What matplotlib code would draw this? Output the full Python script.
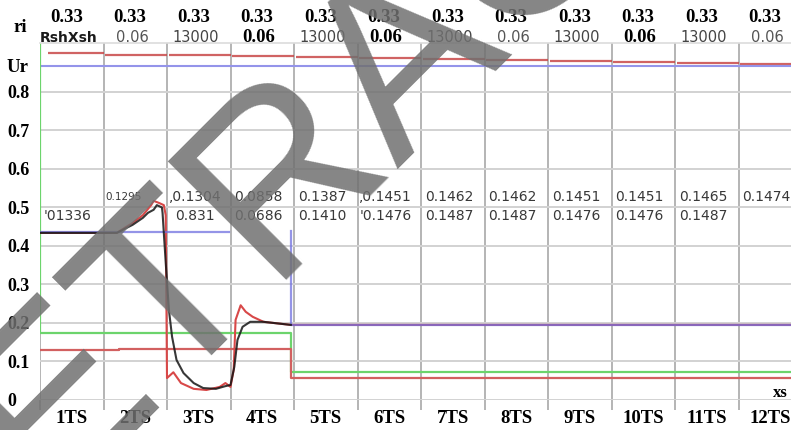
import matplotlib
matplotlib.use("Agg")
import matplotlib.pyplot as plt
from matplotlib.transforms import blended_transform_factory
import numpy as np

# ---- axis labels -------------------------------------------------------
ts_labels = [f"{i}TS" for i in range(1, 13)]
y_ticks = [0, 0.1, 0.2, 0.3, 0.4, 0.5, 0.6, 0.7, 0.8]
y_tick_labels = ["0", "0.1", "0.2", "0.3", "0.4", "0.5", "0.6", "0.7", "0.8"]
ur_level = 0.868

# ---- header rows (one entry per time step) ----------------------------
ri_values = ["0.33"] * 12
rx_values = ["RshXsh", "0.06", "13000", "0.06", "13000", "0.06",
             "13000", "0.06", "13000", "0.06", "13000", "0.06"]
rx_bold = [True, False, False, True, False, True,
           False, False, False, True, False, False]

# ---- per-step result labels -------------------------------------------
upper_labels = [None, "0.1295", ",0.1304", "0.0858", "0.1387", ",0.1451",
                "0.1462", "0.1462", "0.1451", "0.1451", "0.1465", "0.1474"]
lower_labels = ["'01336", None, "0.831", "0.0686", "0.1410", "'0.1476",
                "0.1487", "0.1487", "0.1476", "0.1476", "0.1487", None]

# ---- series -----------------------------------------------------------
ur_red = [0.901, 0.897, 0.895, 0.892, 0.891, 0.888,
          0.886, 0.883, 0.881, 0.878, 0.875, 0.872]

green_t = [0, 0, 3.95, 3.95, 12]
green_v = [0.927, 0.173, 0.173, 0.073, 0.073]

red_low_t = [0, 1.25, 1.25, 3.95, 3.95, 12]
red_low_v = [0.130, 0.130, 0.133, 0.133, 0.057, 0.057]

blue_t = [0, 2.98, np.nan, 3.95, 3.95, 12]
blue_v = [0.435, 0.435, np.nan, 0.44, 0.195, 0.195]

red_t = [0, 1.21, 1.46, 1.62, 1.75, 1.79, 1.87, 1.95, 1.98, 2.0, 2.1,
         2.22, 2.42, 2.62, 2.83, 2.92, 3.0, 3.05, 3.08, 3.16, 3.24, 3.35,
         3.52, 3.95, 12]
red_v = [0.434, 0.434, 0.46, 0.48, 0.506, 0.517, 0.512, 0.506, 0.48, 0.057,
         0.072, 0.044, 0.029, 0.026, 0.034, 0.044, 0.034, 0.078, 0.208,
         0.246, 0.229, 0.216, 0.203, 0.195, 0.195]

black_t = [0, 1.21, 1.46, 1.62, 1.70, 1.79, 1.84, 1.92, 1.93, 1.98, 2.03,
           2.08, 2.15, 2.26, 2.42, 2.57, 2.77, 2.92, 3.0, 3.06, 3.11, 3.19,
           3.31, 3.52, 3.95]
black_v = [0.434, 0.434, 0.455, 0.473, 0.486, 0.494, 0.506, 0.50, 0.486,
           0.356, 0.234, 0.164, 0.104, 0.07, 0.044, 0.031, 0.029, 0.036,
           0.039, 0.086, 0.156, 0.19, 0.203, 0.203, 0.195]

SERIF_B = dict(family="Liberation Serif", weight="bold")

fig = plt.figure(figsize=(7.91, 4.30), dpi=100)
ax = fig.add_axes([40 / 791, 30 / 430, 762 / 791, 357 / 430])
ax.set_xlim(0, 12)
ax.set_ylim(0, 0.927)

for s in ("left", "right", "bottom"):
    ax.spines[s].set_visible(False)
ax.spines["top"].set_color("#dcdcdc")
ax.spines["top"].set_linewidth(1.2)

# grid
ax.set_xticks(range(13))
ax.set_xticklabels([])
ax.set_xticks(np.arange(0.5, 12, 1), minor=True)
ax.set_xticklabels(ts_labels, minor=True, fontsize=13.5, **SERIF_B)
ax.tick_params(axis="x", which="major", length=7.5, width=1.4,
               color="#b4b4b4", direction="out")
ax.tick_params(axis="x", which="minor", length=0, pad=7)
ax.xaxis.grid(True, which="major", color="#b4b4b4", linewidth=1.4)

ax.set_yticks(y_ticks)
ax.set_yticklabels(y_tick_labels, fontsize=13, **SERIF_B)
ax.set_yticks([ur_level], minor=True)
ax.set_yticklabels(["Ur"], minor=True, fontsize=13.5, **SERIF_B)
ax.tick_params(axis="y", which="both", length=0, pad=23.8)
for lab in ax.get_yticklabels() + ax.get_yticklabels(minor=True):
    lab.set_horizontalalignment("left")
ax.yaxis.grid(True, which="major", color="#d2d2d2", linewidth=1.4)
ax.set_axisbelow(True)

# series
steps = np.arange(12)
ax.hlines(ur_red, steps + np.where(steps == 0, 0.13, 0.03), steps + 1,
          color="#c84848", linewidth=1.6, alpha=0.85)
ax.axhline(ur_level, color="#9494ea", linewidth=1.5)
ax.plot(green_t, green_v, color="#6cd46c", linewidth=1.6)
ax.plot(red_low_t, red_low_v, color="#d26060", linewidth=1.6)
ax.plot(red_t, red_v, color="#d84848", linewidth=1.5)
ax.plot(blue_t, blue_v, color="#7070e0", linewidth=1.6, alpha=0.75)
ax.plot(black_t, black_v, color="#151515", linewidth=1.5, alpha=0.85)

# result labels
for i, txt in enumerate(upper_labels):
    if txt:
        size = 7.5 if txt == "0.1295" else 10
        ax.text(i + (0.32 if size < 10 else 0.44), 0.528, txt, ha="center",
                va="center", fontsize=size, color="#383838",
                family="DejaVu Sans")
for i, txt in enumerate(lower_labels):
    if txt:
        ax.text(i + 0.44, 0.478, txt, ha="center", va="center",
                fontsize=10, color="#383838", family="DejaVu Sans")

# header rows above the plot
hdr = blended_transform_factory(ax.transData, fig.transFigure)
for i, txt in enumerate(ri_values):
    ax.text(i + 0.42, 1 - 17 / 430, txt, transform=hdr, ha="center",
            va="center", fontsize=13.5, color="black", clip_on=False,
            **SERIF_B)
for i, (txt, b) in enumerate(zip(rx_values, rx_bold)):
    if i == 0:
        kw = dict(family="DejaVu Sans", weight="bold", fontsize=10,
                  color="#1a1a1a")
    elif b:
        kw = dict(fontsize=13.5, color="black", **SERIF_B)
    else:
        kw = dict(family="DejaVu Sans", fontsize=10.5,
                  color="#555555" if txt == "0.06" else "#444444")
    ax.text(i + 0.45, 1 - 38 / 430, txt, transform=hdr, ha="center",
            va="center", clip_on=False, **kw)

fig.text(13 / 791, 1 - 28 / 430, "ri", ha="left", va="center",
         fontsize=13.5, **SERIF_B)
fig.text(780 / 791, 1 - 393 / 430, "xs", ha="center", va="center",
         fontsize=12, **SERIF_B)

# diagonal stamp across the figure
fig.text(-78 / 791, 1 - 626 / 430, "RETRACTED", rotation=45,
         rotation_mode="anchor", ha="left", va="baseline",
         fontsize=176, family="Liberation Sans", color="#707070",
         alpha=0.85, zorder=10)

fig.savefig("out.png", dpi=100)
